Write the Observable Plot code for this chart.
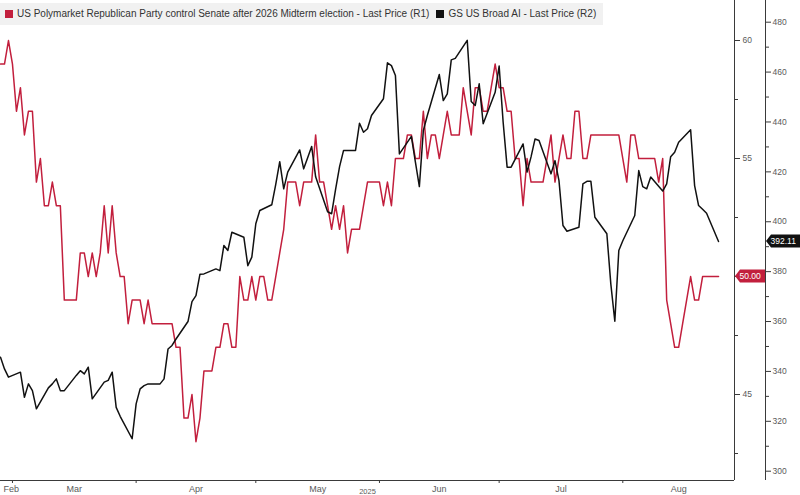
<!DOCTYPE html>
<html><head><meta charset="utf-8">
<script src="https://cdn.jsdelivr.net/npm/d3@7"></script>
<script src="https://cdn.jsdelivr.net/npm/@observablehq/plot@0.6"></script>
<style>
body{margin:0;background:#fff;}
#wrap{position:relative;width:800px;height:495px;overflow:hidden;background:#fff;font-family:"Liberation Sans",Arial,sans-serif;}
#legend{position:absolute;left:0;top:3px;height:22px;line-height:22px;padding:0 7px 0 5px;background:#f1f1f1;font-size:10px;color:#333;white-space:nowrap;}
#legend .sw{display:inline-block;width:8px;height:8px;margin-right:4px;vertical-align:-0.5px;}
</style></head>
<body><div id="wrap"><div id="chart"></div><div id="legend"></div></div>
<script>
// ---- data ----
const seriesNames = [
  "US Polymarket Republican Party control Senate after 2026 Midterm election - Last Price (R1)",
  "GS US Broad AI - Last Price (R2)"
];
const seriesColors = ["#c21f3d", "#111111"];
const startDate = "2025-02-26";
const endDate = "2025-08-29";
// R1: daily (calendar days) from 2025-02-26 to 2025-08-25
const redValues = [
  59,59,60,59,57,58,56,57,57,54,
  55,53,53,54,53,53,49,49,49,49,
  51,51,50,51,50,51,53,51,53,51,
  50,50,48,49,49,49,48,49,48,48,
  48,48,48,48,47,47,44,44,45,43,
  44,46,46,46,47,47,48,48,47,47,
  50,49,49,50,49,50,50,49,49,50,
  51,52,54,54,54,53,54,54,54,56,
  54,54,53,52,53,52,53,51,52,52,
  52,53,54,54,54,54,53,54,53,55,
  55,55,56,56,55,55,57,55,56,56,
  55,56,57,56,56,56,58,57,56,58,
  58,57,57,58,59,58,58,57,57,55,
  55,53,55,54,54,54,54,55,56,54,
  55,56,55,55,57,57,55,55,56,56,
  56,56,56,56,56,56,55,54,56,56,
  55,55,55,55,55,54,55,49,48,47,
  47,48,49,50,49,49,50,50,50,50,50
];
// R2: weekdays from 2025-02-26 to 2025-08-25
const blackValues = [
  345.7,341,337.7,
  339.7,329.6,335.0,332.3,325.0,333.4,335.0,337.0,332.3,332.3,338.4,340.3,339.0,341.7,329.0,335.7,336.4,339.7,325.6,322.0,313.0,
  327.0,333.0,334.3,335.0,335.0,337.0,349.0,350.4,353.0,360.0,368.0,370.4,379.0,379.1,381.1,380.4,390.5,388.5,395.8,393.8,382.4,385.8,
  399.2,404.5,406.8,415.0,424.1,413.2,419.9,428.8,421.2,425.7,430.2,418.0,404.0,403.2,413.0,422.1,428.6,428.6,439.5,435.9,437.3,442.6,
  449.3,463.7,462.6,458.6,427.2,434.2,424.0,414.1,436.6,442.6,459.0,448.6,451.3,464.9,465.5,472.7,448.2,446.6,455.3,439.3,451.9,
  462.4,440.0,421.9,421.9,431.2,419.9,426.0,433.2,432.6,419.2,424.5,416.5,398.5,396.2,397.8,415.2,416.2,416.2,401.8,395.2,375.0,360.1,388.5,
  392.4,402.5,420.5,414.1,413.2,417.9,412.3,415.2,426.1,427.9,431.9,436.9,414.5,406.5,405.0,403.4,392.11
];
const monthLabels = ["Feb","Mar","Apr","May","Jun","Jul","Aug"];
const yearLabel = "2025";
const r1Domain = [41.356, 61.695];
const r2Domain = [296.27, 488.7];
const r1Labeled = [45,55,60];          // 50 sits under the last-value tag
const r1Major = [45,50,55,60];
const r1Minor = [42.5,47.5,52.5,57.5];
const r2Ticks = [300,320,340,360,380,400,420,440,460,480];
const r2Minor = [310,330,350,370,390,410,430,450,470];
const lastRed = 50.00, lastBlack = 392.11;

// ---- build tables ----
const start = new Date(startDate + "T00:00:00Z");
const end = new Date(endDate + "T00:00:00Z");
const red = redValues.map((v,i)=>({date:d3.utcDay.offset(start,i), v}));
const weekdays = d3.utcDay.range(start, d3.utcDay.offset(start, redValues.length)).filter(d=>d.getUTCDay()%6!==0);
const black = blackValues.map((v,i)=>({date:weekdays[i], v}));
const toR1 = d3.scaleLinear().domain(r2Domain).range(r1Domain);
const monthStarts = d3.utcMonth.range(d3.utcMonth.ceil(start), end);
const months = monthLabels.map((t,i)=>{
  const m0 = d3.utcMonth.offset(d3.utcMonth.floor(start), i);
  const m1 = d3.utcMonth.offset(m0, 1);
  const a = m0 < start ? start : m0, b = m1 > end ? end : m1;
  return {t, date:new Date((+a + +b)/2), first: i===0};
});

const axisColor = "#3a3a3a", labelColor = "#5a5a5a";
const chart = Plot.plot({
  width:800, height:495,
  marginTop:0, marginBottom:15, marginLeft:0, marginRight:66,
  x:{type:"utc", domain:[start,end]},
  y:{domain:r1Domain},
  style:{fontFamily:'"Liberation Sans",Arial,sans-serif', fontSize:"8.5px", color:labelColor, background:"transparent"},
  marks:[
    Plot.line(red, {x:"date", y:"v", stroke:seriesColors[0], strokeWidth:1.5, strokeLinejoin:"round"}),
    Plot.line(black, {x:"date", y:d=>toR1(d.v), stroke:seriesColors[1], strokeWidth:1.5, strokeLinejoin:"round"}),
    Plot.ruleY([r1Domain[0]], {stroke:axisColor}),
    Plot.ruleX([end], {stroke:axisColor}),
    Plot.ruleX([end], {stroke:axisColor, dx:31}),
    Plot.axisX({ticks:monthStarts, tickSize:3, tickFormat:()=>"", stroke:axisColor, label:null}),
    Plot.text(months.filter(d=>!d.first), {x:"date", y:()=>r1Domain[0], text:"t", dy:9, fill:labelColor, fontSize:9}),
    Plot.text(months.filter(d=>d.first), {x:()=>start, y:()=>r1Domain[0], text:"t", dy:9, dx:3, textAnchor:"start", fill:labelColor, fontSize:9}),
    Plot.text([yearLabel], {x:()=>new Date((+start + +end)/2), y:()=>r1Domain[0], text:d=>d, dy:11, fill:labelColor, fontSize:7.5}),
    Plot.axisY({anchor:"right", ticks:r1Labeled, tickSize:5, tickPadding:3, tickFormat:d=>d, stroke:axisColor, label:null}),
    Plot.axisY({anchor:"right", ticks:r1Major.filter(t=>!r1Labeled.includes(t)), tickSize:5, tickFormat:()=>"", stroke:axisColor, label:null}),
    Plot.axisY({anchor:"right", ticks:r1Minor, tickSize:3, tickFormat:()=>"", stroke:axisColor, label:null}),
    Plot.axisY({anchor:"right", ticks:r2Ticks.map(toR1), tickSize:5, tickPadding:2, dx:31, tickFormat:d=>Math.round(toR1.invert(d)), stroke:axisColor, label:null}),
    Plot.axisY({anchor:"right", ticks:r2Minor.map(toR1), tickSize:3, dx:31, tickFormat:()=>"", stroke:axisColor, label:null})
  ]
});
document.getElementById("chart").appendChild(chart);

// last-value tags, positioned through the plot's scales
const sx = chart.scale("x"), sy = chart.scale("y");
const xr = sx.apply(end);
const g = d3.select(chart).append("g");
function tag(x0, w, y, fill, label, fs){
  const h = 6.5;
  g.append("path").attr("d", `M${x0},${y}L${x0+5},${y-h}L${x0+w},${y-h}L${x0+w},${y+h}L${x0+5},${y+h}Z`).attr("fill", fill);
  g.append("text").attr("x", x0+4.5).attr("y", y).attr("dy","0.35em").attr("text-anchor","start")
    .attr("fill","#fff").attr("font-size", fs + "px").attr("font-family",'"Liberation Sans",Arial,sans-serif').text(label);
}
tag(xr+1, 30, sy.apply(lastRed), seriesColors[0], lastRed.toFixed(2), 8.5);
tag(xr+32, 800-(xr+32), sy.apply(toR1(lastBlack)), seriesColors[1], lastBlack.toFixed(2), 8.5);

// legend
const lg = d3.select("#legend");
seriesNames.forEach((n,i)=>{
  lg.append("span").attr("class","sw").style("background", seriesColors[i]).style("margin-left", i ? "7px" : "0px");
  lg.append("span").text(n);
});
</script></body></html>
